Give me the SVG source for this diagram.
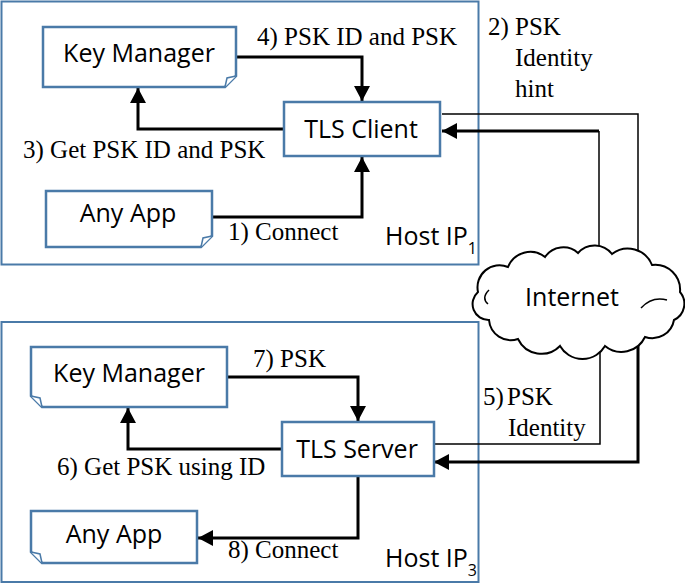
<svg xmlns="http://www.w3.org/2000/svg" width="685" height="584" viewBox="0 0 685 584">
<style>
.host{fill:none;stroke:#4a7aa8;stroke-width:2}
.box{fill:#fff;stroke:#4a7aa8;stroke-width:2.5}
.fold{fill:#fff;stroke:#4a7aa8;stroke-width:1.5}
.sans{font-family:"Open Sans","Liberation Sans",sans-serif;font-size:25px;fill:#000}
.ser{font-family:"Liberation Serif","Times New Roman",serif;font-size:25px;fill:#000}
.thick{fill:none;stroke:#000;stroke-width:3}
.thin{fill:none;stroke:#000;stroke-width:1.5}
.cloud{fill:#fff;stroke:#000;stroke-width:2}
</style>
<defs>
<marker id="ah" markerUnits="userSpaceOnUse" markerWidth="16" markerHeight="16" refX="15" refY="8" orient="auto">
<path d="M0,0 L15,8 L0,16 Z" fill="#000"/>
</marker>
</defs>
<g id="hosts">
<rect class="host" x="1.5" y="1.5" width="477" height="263"/>
<rect class="host" x="1.5" y="322" width="477" height="260"/>
<text class="sans" x="385" y="245">Host IP<tspan font-size="16" dy="9">1</tspan></text>
<text class="sans" x="385" y="567">Host IP<tspan font-size="16" dy="9">3</tspan></text>
</g>
<g id="connectors">
<path class="thick" d="M236,57 H362 V101" marker-end="url(#ah)"/>
<path class="thick" d="M284,129 H138 V88" marker-end="url(#ah)"/>
<path class="thick" d="M212,217 H362 V157" marker-end="url(#ah)"/>
<path class="thin" d="M442,114 H638 V262"/>
<path class="thin" d="M599,262 V131"/>
<path class="thick" d="M599,131 H442" marker-end="url(#ah)"/>
<path class="thin" d="M433,444 H600 V335"/>
<path class="thick" d="M638,335 V462 H434" marker-end="url(#ah)"/>
<path class="thick" d="M227,377 H358 V421" marker-end="url(#ah)"/>
<path class="thick" d="M282,449 H128 V408" marker-end="url(#ah)"/>
<path class="thick" d="M358,476 V538 H198" marker-end="url(#ah)"/>
<text class="ser" x="257" y="45">4) PSK ID and PSK</text>
<text class="ser" x="23" y="158">3) Get PSK ID and PSK</text>
<text class="ser" x="228" y="240">1) Connect</text>
<text class="ser" x="488" y="35">2)</text>
<text class="ser" x="515" y="35">PSK</text>
<text class="ser" x="515" y="66">Identity</text>
<text class="ser" x="515" y="97">hint</text>
<text class="ser" x="253" y="367">7) PSK</text>
<text class="ser" x="57" y="475">6) Get PSK using ID</text>
<text class="ser" x="228" y="558">8) Connect</text>
<text class="ser" x="483" y="405">5)</text>
<text class="ser" x="507" y="405">PSK</text>
<text class="ser" x="508" y="436">Identity</text>
</g>
<g id="key-manager-1">
<path class="box" d="M43,27 H236 V76 L225,87 H43 Z"/>
<path class="fold" d="M225,87 L227,78 L236,76"/>
<text class="sans" x="139" y="62" text-anchor="middle">Key Manager</text>
</g>
<g id="tls-client">
<rect class="box" x="284" y="102" width="156" height="54"/>
<text class="sans" x="361" y="138" text-anchor="middle">TLS Client</text>
</g>
<g id="any-app-1">
<path class="box" d="M46,191 H212 V236 L201,247 H46 Z"/>
<path class="fold" d="M201,247 L203,238 L212,236"/>
<text class="sans" x="128" y="222" text-anchor="middle">Any App</text>
</g>
<g id="key-manager-3">
<path class="box" d="M31,347 H227 V407 H42 L31,396 Z"/>
<path class="fold" d="M42,407 L40,398 L31,396"/>
<text class="sans" x="129" y="382" text-anchor="middle">Key Manager</text>
</g>
<g id="tls-server">
<rect class="box" x="282" y="422" width="152" height="54"/>
<text class="sans" x="357" y="458" text-anchor="middle">TLS Server</text>
</g>
<g id="any-app-3">
<path class="box" d="M31,511 H197 V563 H42 L31,552 Z"/>
<path class="fold" d="M42,563 L40,554 L31,552"/>
<text class="sans" x="114" y="543" text-anchor="middle">Any App</text>
</g>
<g id="internet">
<path class="cloud" d="M478,292 A22,22 0 0 1 508,267 A24,24 0 0 1 545,257 A22,22 0 0 1 578,253 A22,22 0 0 1 612,254 A26,26 0 0 1 652,265 A25,25 0 0 1 680,292 A18,18 0 0 1 674,320 A22,22 0 0 1 645,337 A26,26 0 0 1 605,346 A26,26 0 0 1 560,346 A26,26 0 0 1 518,339 A22,22 0 0 1 489,320 A16,16 0 0 1 478,292 Z"/>
<path class="thin" d="M641,308 Q652,296 667,300"/>
<path class="thin" d="M488,304 Q481,298 489,290"/>
<text class="sans" x="572" y="306" text-anchor="middle">Internet</text>
</g>
</svg>
